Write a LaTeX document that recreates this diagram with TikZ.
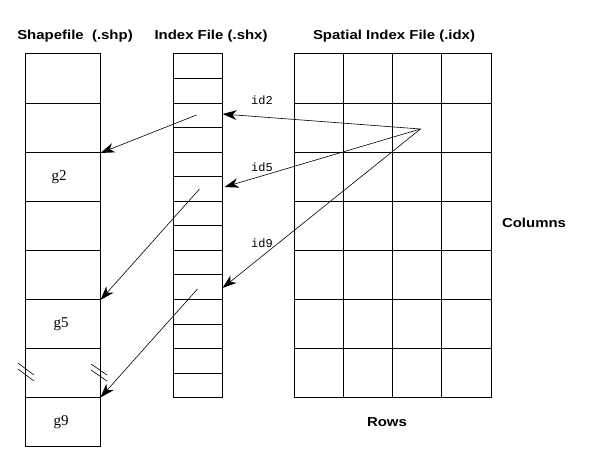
\documentclass[tikz,border=0pt]{standalone}
\usepackage{fontspec}
\setmainfont{Liberation Serif}
\setsansfont{Liberation Sans}
\setmonofont{Liberation Mono}
\usetikzlibrary{calc}
\tikzset{
  grid/.style={line width=1pt},
  ptr/.style={line width=0.6pt},
  brk/.style={line width=0.6pt},
  hdr/.style={inner sep=0pt,font=\sffamily\bfseries\fontsize{13}{15}\selectfont},
  glab/.style={inner sep=0pt,font=\rmfamily\fontsize{15}{17}\selectfont},
  idlab/.style={inner sep=0pt,font=\ttfamily\fontsize{12}{14}\selectfont},
}
\newcommand{\wide}[1]{\scalebox{1.15}[1]{#1}}
\newcommand{\conn}[2]{%
  \draw[ptr] (#1) -- ($(#2)!6pt!(#1)$);
  \fill (#2) -- ($(#2)!15pt!19:(#1)$) -- ($(#2)!10pt!(#1)$) -- ($(#2)!15pt!-19:(#1)$) -- cycle;}
\begin{document}
\begin{tikzpicture}[x=1pt,y=-1pt]
\useasboundingbox (0,0) rectangle (607,465);
\fill[white] (0,0) rectangle (607,465);
% headers
\node[hdr] (hshp) at (75,36) {\wide{Shapefile\ \ (.shp)}};
\node[hdr] (hshx) at (211,36) {\wide{Index File (.shx)}};
\node[hdr] (hidx) at (394,36) {\wide{Spatial Index File (.idx)}};
% shapefile column
\draw[grid] (25,54) rectangle (100,446.8);
\foreach \i in {1,...,7} \draw[grid] (25,54+49.1*\i) -- (100,54+49.1*\i);
% index column
\draw[grid] (173.3,54) rectangle (222.3,397.7);
\foreach \i in {1,...,13} \draw[grid] (173.3,54+24.55*\i) -- (222.3,54+24.55*\i);
% spatial index grid
\draw[grid] (294,54) rectangle (491,397.7);
\foreach \i in {1,...,3} \draw[grid] (294+49.25*\i,54) -- (294+49.25*\i,397.7);
\foreach \i in {1,...,6} \draw[grid] (294,54+49.1*\i) -- (491,54+49.1*\i);
% labels
\node[glab] (g2) at (59,177) {g2};
\node[glab] (g5) at (61,324) {g5};
\node[glab] (g9) at (61,422) {g9};
\node[idlab] (id2) at (262,100) {id2};
\node[idlab] (id5) at (262,167) {id5};
\node[idlab] (id9) at (262,243) {id9};
\node[hdr] (cols) at (534,223) {\wide{Columns}};
\node[hdr] (rows) at (387,422) {\wide{Rows}};
% break marks
\draw[brk] (18,363) -- (34,375);
\draw[brk] (18,369) -- (34,381);
\draw[brk] (91,364) -- (107,375);
\draw[brk] (91,370) -- (107,381);
% connector coordinates
\coordinate (src) at (420.5,129);
\coordinate (t2) at (222.5,114);
\coordinate (t5) at (224.5,187);
\coordinate (t9) at (222.5,288);
\coordinate (s2) at (196.5,115);
\coordinate (s5) at (199.5,189);
\coordinate (s9) at (197.5,289);
\coordinate (e2) at (100.5,153);
\coordinate (e5) at (100.5,300);
\coordinate (e9) at (100.5,397.5);
\conn{src}{t2}
\conn{src}{t5}
\conn{src}{t9}
\conn{s2}{e2}
\conn{s5}{e5}
\conn{s9}{e9}
\end{tikzpicture}
\end{document}
